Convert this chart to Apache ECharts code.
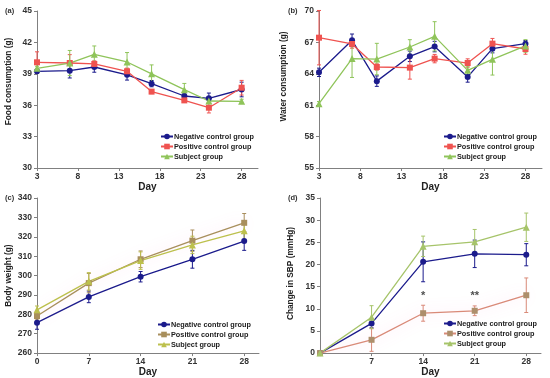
<!DOCTYPE html>
<html><head><meta charset="utf-8">
<script src="https://cdn.jsdelivr.net/npm/echarts@6/dist/echarts.min.js"></script>
<style>html,body{margin:0;padding:0;background:#fff}#c{width:550px;height:378px}</style>
</head><body><div id="c"></div>
<script>
const groups = ['Negative control group', 'Positive control group', 'Subject group'];
const daysAB = [3, 7, 10, 14, 17, 21, 24, 28];
const daysCD = [0, 7, 14, 21, 28];
// (a) food consumption
const foodNeg = [39.24, 39.3, 39.65, 38.9, 38.06, 36.88, 36.66, 37.5];
const foodPos = [40.1, 40.03, 39.94, 39.24, 37.3, 36.46, 35.76, 37.67];
const foodSub = [39.52, 40.03, 40.86, 40.13, 39.0, 37.48, 36.4, 36.37];
const foodNegErr = [0.2, 0.7, 0.5, 0.5, 0.3, 0.2, 0.5, 0.7];
const foodPosErr = [1.0, 0.8, 0.3, 0.3, 0.2, 0.2, 0.5, 0.7];
const foodSubErr = [0.2, 1.2, 0.8, 0.9, 0.85, 0.6, 0.2, 0.2];
// (b) water consumption
const waterNeg = [64.14, 67.2, 63.3, 65.67, 66.6, 63.7, 66.4, 66.88];
const waterPos = [67.45, 66.85, 64.65, 64.59, 65.45, 65.03, 66.88, 66.37];
const waterSub = [61.15, 65.45, 65.41, 66.56, 67.58, 64.33, 65.38, 66.66];
const waterNegErr = [0.4, 0.6, 0.5, 0.5, 0.5, 0.5, 0.4, 0.3];
const waterPosErr = [2.6, 0.4, 0.3, 1.1, 0.4, 0.4, 0.5, 0.5];
const waterSubErr = [0.2, 1.8, 1.5, 0.7, 1.4, 0.4, 1.5, 0.6];
// (c) body weight
const bwNeg = [275.7, 289.0, 299.4, 308.4, 317.8];
const bwPos = [279.1, 296.1, 308.4, 318.0, 327.2];
const bwSub = [282.3, 297.0, 307.7, 315.8, 323.1];
const bwNegErr = [3.4, 3.0, 2.7, 4.6, 4.8];
const bwPosErr = [2.0, 5.0, 4.3, 5.5, 4.8];
const bwSubErr = [2.0, 4.5, 4.5, 4.5, 4.5];
// (d) change in SBP
const sbpNeg = [0, 6.7, 20.6, 22.4, 22.2];
const sbpPos = [0, 3.0, 9.0, 9.55, 13.06];
const sbpSub = [0, 8.1, 24.1, 25.1, 28.4];
const sbpNegErr = [0, 1.0, 4.5, 3.1, 2.5];
const sbpPosErr = [0, 2.6, 1.8, 1.1, 3.9];
const sbpSubErr = [0, 2.6, 2.3, 2.8, 3.2];
const sigX = [14, 21];
const sigY = [13, 13];
const sigText = ['*', '**'];
// ticks
const xTicksAB = [3, 8, 13, 18, 23, 28];
const xTicksCD = [0, 7, 14, 21, 28];
const xLabelsD = [7, 14, 21, 28];
const yTicksA = [30, 33, 36, 39, 42, 45];
const yTicksB = [55, 58, 61, 64, 67, 70];
const yTicksC = [260, 270, 280, 290, 300, 310, 320, 330, 340];
const yTicksD = [0, 5, 10, 15, 20, 25, 30, 35];

const FONT = '"Liberation Sans", Arial, sans-serif';
const AX = '#808080';
const NAVY = '#1b1b8c', RED = '#ef5350', GREEN = '#8fc45a';

const grids = [
  {left: 37, top: 11, width: 221, height: 157},
  {left: 319, top: 11, width: 223, height: 157},
  {left: 37, top: 198, width: 222, height: 157},
  {left: 320, top: 198, width: 221, height: 157}
];

function xAxis(i, min, max, ticks, labels, gap) {
  return {
    type: 'value', gridIndex: i, min: min, max: max,
    name: 'Day', nameLocation: 'middle', nameGap: gap,
    nameTextStyle: {fontFamily: FONT, fontWeight: 'bold', fontSize: 10, color: '#222'},
    splitLine: {show: false},
    axisLine: {lineStyle: {color: AX, width: 1}},
    axisTick: {customValues: ticks, length: 3, lineStyle: {color: AX}},
    axisLabel: {customValues: labels, margin: 4, fontFamily: FONT, fontWeight: 'bold', fontSize: 8.5, color: '#333'}
  };
}
function yAxis(i, min, max, ticks, name, gap, shift) {
  return {
    type: 'value', gridIndex: i, min: min, max: max,
    name: name, nameLocation: 'middle', nameGap: gap,
    nameTextStyle: {fontFamily: FONT, fontWeight: 'bold', fontSize: 8.3, color: '#222', padding: [0, 0, 0, shift]},
    splitLine: {show: false},
    axisLine: {show: true, lineStyle: {color: AX, width: 1}},
    axisTick: {show: true, customValues: ticks, length: 3, lineStyle: {color: AX}},
    axisLabel: {customValues: ticks, margin: 5, fontFamily: FONT, fontWeight: 'bold', fontSize: 8.5, color: '#333'}
  };
}

function errRender(params, api) {
  const x = api.value(0), lo = api.value(1), hi = api.value(2);
  const p1 = api.coord([x, hi]), p2 = api.coord([x, lo]);
  const w = 2;
  const style = {stroke: api.visual('color'), lineWidth: 1};
  return {type: 'group', children: [
    {type: 'line', shape: {x1: p1[0], y1: p1[1], x2: p2[0], y2: p2[1]}, style: style},
    {type: 'line', shape: {x1: p1[0] - w, y1: p1[1], x2: p1[0] + w, y2: p1[1]}, style: style},
    {type: 'line', shape: {x1: p2[0] - w, y1: p2[1], x2: p2[0] + w, y2: p2[1]}, style: style}
  ]};
}

const symbols = ['circle', 'rect', 'triangle'];
const sizes = [6, 6, 7];
const series = [];
function addPanel(p, i, xs, vals, errs, lineColors, markColors, glow) {
  for (let g = 0; g < 3; g++) {
    series.push({
      type: 'custom', name: p + '|err' + g, xAxisIndex: i, yAxisIndex: i,
      itemStyle: {color: lineColors[g]}, z: 1, silent: true,
      renderItem: errRender,
      data: xs.map((x, k) => [x, vals[g][k] - errs[g][k], vals[g][k] + errs[g][k]])
    });
  }
  for (let g = 0; g < 3; g++) {
    const ls = {color: lineColors[g], width: 1.3};
    if (glow && g === 1) { ls.shadowColor = 'rgba(255,110,190,0.35)'; ls.shadowBlur = 14; }
    series.push({
      type: 'line', name: p + '|' + groups[g], xAxisIndex: i, yAxisIndex: i,
      symbol: symbols[g], symbolSize: sizes[g], showSymbol: true, z: 3,
      lineStyle: ls, itemStyle: {color: markColors[g], borderWidth: 0},
      data: xs.map((x, k) => [x, vals[g][k]])
    });
  }
}
addPanel('a', 0, daysAB, [foodNeg, foodPos, foodSub], [foodNegErr, foodPosErr, foodSubErr], [NAVY, RED, GREEN], [NAVY, RED, GREEN], false);
addPanel('b', 1, daysAB, [waterNeg, waterPos, waterSub], [waterNegErr, waterPosErr, waterSubErr], [NAVY, RED, GREEN], [NAVY, RED, GREEN], false);
addPanel('c', 2, daysCD, [bwNeg, bwPos, bwSub], [bwNegErr, bwPosErr, bwSubErr], [NAVY, '#a88f5c', '#bcc04c'], [NAVY, '#a88f5c', '#bcc04c'], true);
addPanel('d', 3, daysCD, [sbpNeg, sbpPos, sbpSub], [sbpNegErr, sbpPosErr, sbpSubErr], [NAVY, '#d98a78', '#a6c46a'], [NAVY, '#ad8f6c', '#a6c46a'], true);

series.push({
  type: 'scatter', name: 'sig', xAxisIndex: 3, yAxisIndex: 3, symbolSize: 1,
  itemStyle: {color: 'rgba(0,0,0,0)'}, silent: true,
  label: {show: true, position: 'inside', formatter: p => p.value[2], fontFamily: FONT, fontWeight: 'bold', fontSize: 11, color: '#222'},
  data: sigX.map((x, k) => [x, sigY[k], sigText[k]])
});

function legend(p, left, top) {
  return {
    data: groups.map(n => p + '|' + n), formatter: n => n.split('|')[1],
    orient: 'vertical', left: left, top: top, padding: 0, itemGap: 3,
    itemWidth: 12, itemHeight: 7, selectedMode: false,
    textStyle: {fontFamily: FONT, fontWeight: 'bold', fontSize: 7.3, color: '#222', padding: [0, 0, 0, -4]}
  };
}

const labelText = (t, x, y) => ({type: 'text', left: x, top: y, style: {text: t, font: 'bold 7.5px ' + FONT, fill: '#333'}});

const option = {
  animation: false,
  backgroundColor: '#fff',
  grid: grids,
  xAxis: [
    xAxis(0, 3, 30, xTicksAB, xTicksAB, 9),
    xAxis(1, 3, 30, xTicksAB, xTicksAB, 9),
    xAxis(2, 0, 30, xTicksCD, xTicksCD, 11),
    xAxis(3, 0, 30, xTicksCD, xLabelsD, 11)
  ],
  yAxis: [
    yAxis(0, 30, 45, yTicksA, 'Food consumption (g)', 24, 16),
    yAxis(1, 55, 70, yTicksB, 'Water consumption (g)', 31, 26),
    yAxis(2, 260, 340, yTicksC, 'Body weight (g)', 24, 0),
    yAxis(3, 0, 35, yTicksD, 'Change in SBP (mmHg)', 25, 4)
  ],
  legend: [legend('a', 160, 133), legend('b', 443, 133), legend('c', 157, 321), legend('d', 443, 320)],
  graphic: [labelText('(a)', 5, 7), labelText('(b)', 288, 7), labelText('(c)', 5, 194), labelText('(d)', 288, 194)],
  series: series
};
echarts.init(document.getElementById('c'), null, {renderer: 'canvas'}).setOption(option);
</script></body></html>
